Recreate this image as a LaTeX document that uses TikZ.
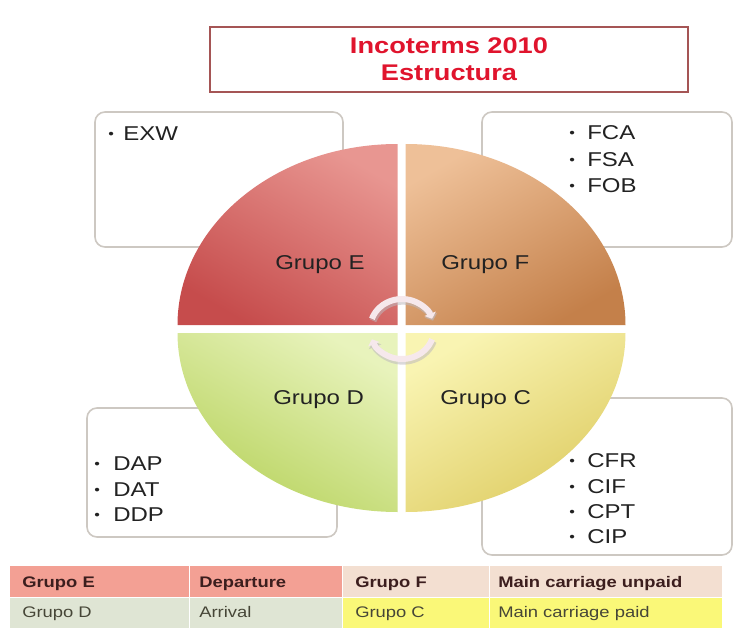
\documentclass[tikz,border=0pt]{standalone}
\usepackage{fontspec}
\setmainfont{Liberation Sans}[FakeStretch=1.2]
\usetikzlibrary{arrows.meta}

\definecolor{titlered}{RGB}{224,20,45}
\definecolor{titleframe}{RGB}{165,85,85}
\definecolor{boxframe}{RGB}{205,200,194}
\definecolor{qEtop}{RGB}{232,150,145}
\definecolor{qEbot}{RGB}{198,76,76}
\definecolor{qFtop}{RGB}{238,192,152}
\definecolor{qFbot}{RGB}{196,128,74}
\definecolor{qDtop}{RGB}{232,243,188}
\definecolor{qDbot}{RGB}{184,211,94}
\definecolor{qCtop}{RGB}{249,244,178}
\definecolor{qCbot}{RGB}{222,204,98}
\definecolor{cellE}{RGB}{243,160,148}
\definecolor{cellF}{RGB}{243,223,209}
\definecolor{cellD}{RGB}{223,229,212}
\definecolor{cellC}{RGB}{250,248,120}
\definecolor{darktext}{RGB}{34,34,34}
\definecolor{headtext}{RGB}{60,30,30}
\definecolor{bodytext}{RGB}{70,70,55}
\definecolor{arcfill}{RGB}{246,232,236}
\definecolor{arcshade}{RGB}{190,185,190}

\begin{document}
\begin{tikzpicture}[x=0.75pt,y=0.75pt,
  titlebox/.style={draw=titleframe, line width=1.5pt, fill=white, align=center,
    text=titlered, font=\fontsize{17}{20.25}\selectfont\bfseries},
  listbox/.style={draw=boxframe, line width=1.2pt, rounded corners=7.5pt, fill=white, inner sep=0pt},
  entry/.style={anchor=base west, inner sep=0pt, font=\fontsize{15}{18}\selectfont, text=darktext},
  dotmark/.style={anchor=base west, inner sep=0pt, font=\fontsize{10}{12}\selectfont, text=darktext},
  grp/.style={anchor=base west, inner sep=0pt, font=\fontsize{15}{18}\selectfont, text=darktext},
  cellhead/.style={anchor=base west, inner sep=0pt, font=\fontsize{11.5}{14}\selectfont\bfseries, text=headtext},
  cellbody/.style={anchor=base west, inner sep=0pt, font=\fontsize{11.5}{14}\selectfont, text=bodytext},
  cycarc/.style={line width=4.5pt, draw=arcfill, -{Triangle[width=9pt,length=4pt]}},
  cycshadow/.style={line width=5.5pt, draw=arcshade, opacity=0.55, -{Triangle[width=10pt,length=4.5pt]}},
]
\useasboundingbox (0,0) rectangle (744,-636);

% title
\node[titlebox, minimum width=358.5pt, minimum height=48.75pt] (title) at (449,-59.5)
  {Incoterms 2010\\Estructura};

% list boxes (behind the disc)
\node[listbox, minimum width=186pt, minimum height=101.25pt] (boxE) at (219,-179.5) {};
\node[listbox, minimum width=187.5pt, minimum height=101.25pt] (boxF) at (607,-179.5) {};
\node[listbox, minimum width=187.5pt, minimum height=117.75pt] (boxC) at (607,-476.5) {};
\node[listbox, minimum width=187.5pt, minimum height=96.75pt] (boxD) at (212,-472.5) {};

% four quadrants of the disc
\shade[top color=qEtop, bottom color=qEbot, shading angle=-30]
  (397.5,-325) -- ++(-220,0) arc[start angle=180, end angle=90, x radius=220, y radius=181] -- cycle;
\shade[top color=qFtop, bottom color=qFbot, shading angle=30]
  (405.5,-325) -- ++(220,0) arc[start angle=0, end angle=90, x radius=220, y radius=181] -- cycle;
\shade[top color=qDtop, bottom color=qDbot, shading angle=-30]
  (397.5,-333) -- ++(-220,0) arc[start angle=180, end angle=270, x radius=220, y radius=179] -- cycle;
\shade[top color=qCtop, bottom color=qCbot, shading angle=30]
  (405.5,-333) -- ++(220,0) arc[start angle=0, end angle=-90, x radius=220, y radius=179] -- cycle;

% cycle arrows in the middle
\coordinate (hub) at (402,-329);
\draw[cycshadow] ([shift={(1,-2)}]hub) ++(160:32 and 30) arc[start angle=160, end angle=20, x radius=32, y radius=30];
\draw[cycshadow] ([shift={(1,-2)}]hub) ++(-20:32 and 30) arc[start angle=-20, end angle=-160, x radius=32, y radius=30];
\draw[cycarc] (hub) ++(160:32 and 30) arc[start angle=160, end angle=20, x radius=32, y radius=30];
\draw[cycarc] (hub) ++(-20:32 and 30) arc[start angle=-20, end angle=-160, x radius=32, y radius=30];

% quadrant labels
\node[grp] (labE) at (275,-269) {Grupo E};
\node[grp] (labF) at (441,-269) {Grupo F};
\node[grp] (labD) at (273,-404) {Grupo D};
\node[grp] (labC) at (440,-404) {Grupo C};

% group E terms
\node[dotmark] (bE1) at (108,-138) {\textbullet};
\node[entry] (tE1) at (123,-140) {EXW};

% group F terms
\node[dotmark] (bF1) at (569,-137) {\textbullet};
\node[entry] (tF1) at (587,-139) {FCA};
\node[dotmark] (bF2) at (569,-164) {\textbullet};
\node[entry] (tF2) at (587,-166) {FSA};
\node[dotmark] (bF3) at (569,-190) {\textbullet};
\node[entry] (tF3) at (587,-192) {FOB};

% group C terms
\node[dotmark] (bC1) at (569,-465) {\textbullet};
\node[entry] (tC1) at (587,-467) {CFR};
\node[dotmark] (bC2) at (569,-491) {\textbullet};
\node[entry] (tC2) at (587,-493) {CIF};
\node[dotmark] (bC3) at (569,-516) {\textbullet};
\node[entry] (tC3) at (587,-518) {CPT};
\node[dotmark] (bC4) at (569,-541) {\textbullet};
\node[entry] (tC4) at (587,-543) {CIP};

% group D terms
\node[dotmark] (bD1) at (94,-468) {\textbullet};
\node[entry] (tD1) at (113,-470) {DAP};
\node[dotmark] (bD2) at (94,-494) {\textbullet};
\node[entry] (tD2) at (113,-496) {DAT};
\node[dotmark] (bD3) at (94,-519) {\textbullet};
\node[entry] (tD3) at (113,-521) {DDP};

% summary table
\fill[cellE] (10,-566) rectangle (189,-597);
\fill[cellE] (190,-566) rectangle (342,-597);
\fill[cellF] (343,-566) rectangle (489,-597);
\fill[cellF] (490,-566) rectangle (722,-597);
\fill[cellD] (10,-598) rectangle (189,-628);
\fill[cellD] (190,-598) rectangle (342,-628);
\fill[cellC] (343,-598) rectangle (489,-628);
\fill[cellC] (490,-598) rectangle (722,-628);

\node[cellhead] (h1) at (22,-587) {Grupo E};
\node[cellhead] (h2) at (199,-587) {Departure};
\node[cellhead] (h3) at (355,-587) {Grupo F};
\node[cellhead] (h4) at (498,-587) {Main carriage unpaid};
\node[cellbody] (r1) at (22,-617) {Grupo D};
\node[cellbody] (r2) at (199,-617) {Arrival};
\node[cellbody] (r3) at (355,-617) {Grupo C};
\node[cellbody] (r4) at (498,-617) {Main carriage paid};
\end{tikzpicture}
\end{document}
